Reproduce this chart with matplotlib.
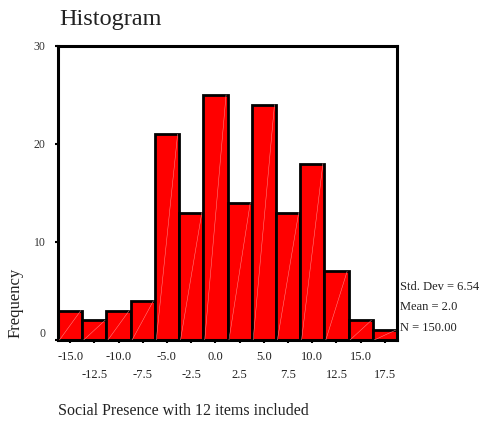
import matplotlib.pyplot as plt
import numpy as np

# bin centres and counts
centers = [-15.0, -12.5, -10.0, -7.5, -5.0, -2.5, 0.0, 2.5, 5.0, 7.5, 10.0, 12.5, 15.0, 17.5]
counts = [3, 2, 3, 4, 21, 13, 25, 14, 24, 13, 18, 7, 2, 1]
yticks = [0, 10, 20, 30]
stats_lines = ['Std. Dev = 6.54', 'Mean = 2.0', 'N = 150.00']

plt.rcParams['font.family'] = ['Liberation Serif', 'DejaVu Serif']

fig = plt.figure(figsize=(4.84, 4.24), dpi=100)
ax = fig.add_axes([58 / 484, 1 - 340 / 424, 339 / 484, 294 / 424])

ax.bar(centers, counts, width=2.5, color='#ff0000', edgecolor='black', linewidth=2)

# faint diagonal streaks inside bars
for c, n in zip(centers, counts):
    ax.plot([c - 1.1, c + 1.1], [0, min(n, 2.5 * n)], color='#ff9090', lw=0.35, zorder=3)

ax.set_xlim(-16.25, 18.75)
ax.set_ylim(0, 30)
ax.set_yticks(yticks)
ax.set_yticklabels([str(v) for v in yticks], fontsize=8.5, color='#333333')
ax.get_yticklabels()[0].set_va('bottom')
ax.set_xticks(centers)
labels = []
for i, c in enumerate(centers):
    labels.append('%.1f' % c if i % 2 == 0 else '\n%.1f' % c)
ax.set_xticklabels(labels, fontsize=9, color='#222222', linespacing=1.7)
ax.tick_params(axis='x', length=2, width=1.5, pad=6)
ax.tick_params(axis='y', length=2, width=1.5, pad=7)
for s in ax.spines.values():
    s.set_linewidth(2.2)

fig.text(59 / 484, 1 - 20 / 424, 'Histogram', fontsize=17.5, ha='left', va='center', color='#222222')
fig.text(16 / 484, 1 - 303 / 424, 'Frequency', fontsize=12, rotation=90, ha='center', va='center', color='#222222')
for i, s in enumerate(stats_lines):
    fig.text(400 / 484, 1 - (287 + i * 20.5) / 424, s, fontsize=9, ha='left', va='center', color='#222222')
fig.text(58 / 484, 1 - 411 / 424, 'Social Presence with 12 items included', fontsize=11.5, ha='left', va='center', color='#222222')

fig.savefig('out.png', dpi=100)
